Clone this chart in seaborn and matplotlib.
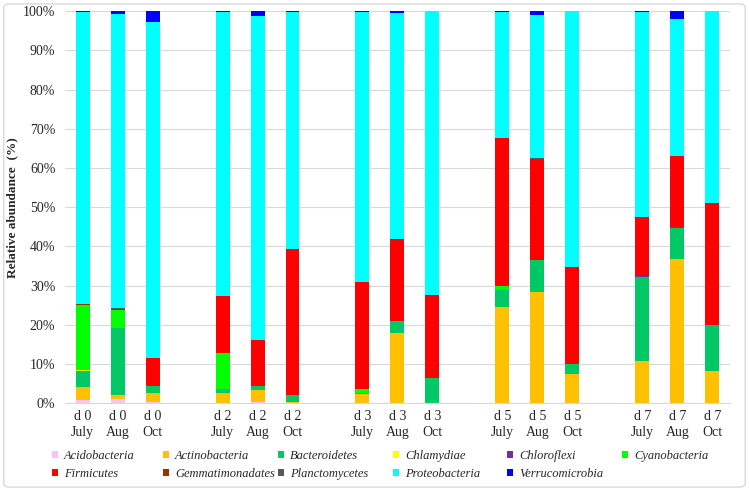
import pandas as pd
import numpy as np
import seaborn as sns
import matplotlib
matplotlib.use('Agg')
import matplotlib.pyplot as plt
from matplotlib.patches import Patch, FancyBboxPatch

# sample labels (x axis), in plot order
samples = ['d 0\nJuly', 'd 0\nAug', 'd 0\nOct',
           'd 2\nJuly', 'd 2\nAug', 'd 2\nOct',
           'd 3\nJuly', 'd 3\nAug', 'd 3\nOct',
           'd 5\nJuly', 'd 5\nAug', 'd 5\nOct',
           'd 7\nJuly', 'd 7\nAug', 'd 7\nOct']

phyla = ['Acidobacteria', 'Actinobacteria', 'Bacteroidetes', 'Chlamydiae', 'Chloroflexi',
         'Cyanobacteria', 'Firmicutes', 'Gemmatimonadates', 'Planctomycetes',
         'Proteobacteria', 'Verrucomicrobia']

colors = ['#f9c4f3', '#ffc000', '#00c864', '#ffff00', '#7030a0',
          '#00ff00', '#ff0000', '#993300', '#595959', '#00ffff', '#0000ff']

# relative abundance (%) per phylum, one value per sample
acidobacteria    = [0.8, 1.1, 0.3, 0.1, 0.3, 0.0, 0.0, 0.0, 0.0, 0.0, 0.0, 0.0, 0.0, 0.0, 0.0]
actinobacteria   = [3.2, 0.9, 2.4, 2.4, 3.1, 0.3, 2.3, 18.0, 0.0, 24.6, 28.3, 7.4, 10.8, 36.7, 8.3]
bacteroidetes    = [4.1, 17.2, 1.7, 1.2, 1.0, 1.7, 0.3, 3.0, 6.3, 4.3, 8.2, 2.7, 21.3, 8.0, 11.7]
chlamydiae       = [0.25, 0.0, 0.0, 0.0, 0.0, 0.0, 0.0, 0.0, 0.0, 0.0, 0.0, 0.0, 0.0, 0.0, 0.0]
chloroflexi      = [0.0, 0.0, 0.0, 0.0, 0.0, 0.0, 0.0, 0.0, 0.0, 0.0, 0.0, 0.0, 0.3, 0.3, 0.0]
cyanobacteria    = [16.65, 4.5, 0.0, 9.0, 0.0, 0.0, 0.9, 0.0, 0.0, 1.0, 0.0, 0.0, 0.0, 0.0, 0.0]
firmicutes       = [0.0, 0.0, 7.2, 14.6, 11.8, 37.3, 27.3, 21.0, 21.2, 37.7, 25.8, 24.7, 15.2, 18.0, 31.0]
gemmatimonadates = [0.3, 0.2, 0.0, 0.0, 0.0, 0.0, 0.0, 0.0, 0.0, 0.0, 0.0, 0.0, 0.0, 0.0, 0.0]
planctomycetes   = [0.1, 0.5, 0.0, 0.0, 0.0, 0.0, 0.0, 0.0, 0.0, 0.0, 0.2, 0.0, 0.0, 0.0, 0.0]
proteobacteria   = [74.3, 74.8, 85.7, 72.4, 82.5, 60.4, 68.9, 57.6, 72.5, 32.1, 36.6, 65.2, 52.1, 35.0, 49.0]
verrucomicrobia  = [0.3, 0.8, 2.7, 0.3, 1.3, 0.3, 0.3, 0.4, 0.0, 0.3, 0.9, 0.0, 0.3, 2.0, 0.0]

values = [acidobacteria, actinobacteria, bacteroidetes, chlamydiae, chloroflexi,
          cyanobacteria, firmicutes, gemmatimonadates, planctomycetes,
          proteobacteria, verrucomicrobia]

# long table + cumulative heights for stacking
df = pd.DataFrame(np.array(values).T, columns=phyla)
df['sample'] = samples
cum = df[phyla].cumsum(axis=1)
cum['sample'] = samples

# empty slots between the day groups
order = []
for i in range(5):
    order += samples[i * 3:i * 3 + 3]
    if i < 4:
        order.append(' ' * (i + 1))

sns.set_style('white')
plt.rcParams['font.family'] = ['Liberation Serif', 'DejaVu Serif']

fig = plt.figure(figsize=(7.49, 4.91), dpi=100)
ax = fig.add_axes([0.0868, 0.179, 0.8878, 0.798])

# draw from the top of the stack downwards so each layer covers the previous
for ph, col in reversed(list(zip(phyla, colors))):
    sns.barplot(data=cum, x='sample', y=ph, order=order, color=col, saturation=1,
                width=0.4, linewidth=0, errorbar=None, ax=ax)

ax.set_ylim(0, 100)
ax.set_yticks(range(0, 101, 10))
ax.set_yticklabels([f'{t}%' for t in range(0, 101, 10)], fontsize=10)
ax.yaxis.grid(True, color='#d9d9d9', linewidth=0.8)
ax.set_axisbelow(True)
for s in ['top', 'right', 'left']:
    ax.spines[s].set_visible(False)
ax.spines['bottom'].set_color('#d9d9d9')
ax.tick_params(axis='both', length=0)
ax.tick_params(axis='y', pad=7)
ax.tick_params(axis='x', pad=5)
for lab in ax.get_xticklabels():
    lab.set_fontsize(10)
    lab.set_linespacing(1.3)

ax.set_xlabel('')
ax.set_ylabel('Relative abundance  (%)', fontsize=9.5, fontweight='bold')
ax.yaxis.set_label_coords(-0.071, 0.5)

# legend: six equal-width columns (Excel style), one small legend per column
handles = [Patch(facecolor=c, edgecolor='none', label=p) for p, c in zip(phyla, colors)]
col_x = [52, 163, 278, 393, 507, 622]
for j, x in enumerate(col_x):
    idx = [j, j + 6] if j + 6 < len(phyla) else [j]
    fig.legend(handles=[handles[i] for i in idx], loc='upper left',
               bbox_to_anchor=(x / 749, 0.084), borderpad=0, borderaxespad=0,
               frameon=False, prop={'style': 'italic', 'size': 9},
               handlelength=0.5, handleheight=0.5, handletextpad=0.45,
               labelspacing=0.5)

# light chart border
fig.patches.append(FancyBboxPatch((0.005, 0.008), 0.99, 0.984,
                                  boxstyle='round,pad=0,rounding_size=0.008',
                                  transform=fig.transFigure, facecolor='none',
                                  edgecolor='#d9d9d9', linewidth=1))

fig.savefig('out.png', dpi=100)
